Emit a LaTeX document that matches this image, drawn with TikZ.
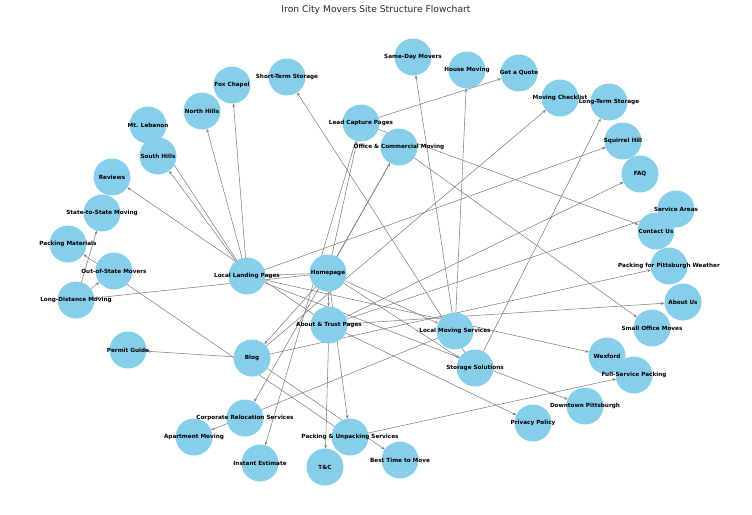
\documentclass[tikz,border=0pt]{standalone}
\usepackage{fontspec}
\setmainfont{DejaVu Sans}
\usetikzlibrary{arrows.meta,backgrounds}
\definecolor{nodeblue}{RGB}{135,206,235}
\definecolor{edgegray}{RGB}{128,128,128}
\definecolor{titlegray}{RGB}{40,40,40}
\begin{document}
\begin{tikzpicture}[x=1pt,y=-1pt,
  pagenode/.style={circle,fill=nodeblue,draw=none,minimum size=37pt,inner sep=0pt,outer sep=0pt},
  lbl/.style={font=\bfseries\fontsize{5.7}{6}\selectfont,inner sep=0pt,text=black},
  link/.style={draw=edgegray,line width=0.55pt,-{Stealth[length=3.6pt,width=2.8pt]}},
  titlestyle/.style={font=\fontsize{9.2}{11}\selectfont,text=titlegray,inner sep=0pt}]
\useasboundingbox (0,0) rectangle (752,514);
\node[titlestyle] (title) at (376,9.5) {Iron City Movers Site Structure Flowchart};
% circles
\node[pagenode] (hp)  at (328,273) {};
\node[pagenode] (llp) at (247,276) {};
\node[pagenode] (atp) at (329,325) {};
\node[pagenode] (blog) at (252,358) {};
\node[pagenode] (lcp) at (361,123) {};
\node[pagenode] (ocm) at (399,147) {};
\node[pagenode] (lms) at (455,331) {};
\node[pagenode] (ss)  at (475,368) {};
\node[pagenode] (ldm) at (76,300) {};
\node[pagenode] (pus) at (350,437) {};
\node[pagenode] (hm)  at (467,70) {};
\node[pagenode] (am)  at (194,437) {};
\node[pagenode] (sdm) at (413,57) {};
\node[pagenode] (sts) at (102,213) {};
\node[pagenode] (osm) at (114,271) {};
\node[pagenode] (crs) at (245,418) {};
\node[pagenode] (sto) at (287,77) {};
\node[pagenode] (lts) at (609,102) {};
\node[pagenode] (som) at (652,328) {};
\node[pagenode] (wx)  at (607,356) {};
\node[pagenode] (fsp) at (634,375) {};
\node[pagenode] (pm)  at (68,244) {};
\node[pagenode] (dp)  at (585,406) {};
\node[pagenode] (sh)  at (623,141) {};
\node[pagenode] (ml)  at (148,125) {};
\node[pagenode] (shl) at (158,156) {};
\node[pagenode] (nh)  at (202,111) {};
\node[pagenode] (fc)  at (232,85) {};
\node[pagenode] (mc)  at (560,98) {};
\node[pagenode] (bt)  at (400,460) {};
\node[pagenode] (pg)  at (128,350) {};
\node[pagenode] (au)  at (683,302) {};
\node[pagenode] (rv)  at (112,177) {};
\node[pagenode] (sa)  at (676,209) {};
\node[pagenode] (cu)  at (656,231) {};
\node[pagenode] (ppw) at (669,266) {};
\node[pagenode] (faq) at (640,174) {};
\node[pagenode] (pp)  at (533,423) {};
\node[pagenode] (tc)  at (325,467) {};
\node[pagenode] (gq)  at (519,73) {};
\node[pagenode] (ie)  at (260,463) {};
% labels
\node[lbl] at (hp) {Homepage};
\node[lbl] at (llp) {Local Landing Pages};
\node[lbl] at (atp) {About \& Trust Pages};
\node[lbl] at (blog) {Blog};
\node[lbl] at (lcp) {Lead Capture Pages};
\node[lbl] at (ocm) {Office \& Commercial Moving};
\node[lbl] at (lms) {Local Moving Services};
\node[lbl] at (ss) {Storage Solutions};
\node[lbl] at (ldm) {Long-Distance Moving};
\node[lbl] at (pus) {Packing \& Unpacking Services};
\node[lbl] at (hm) {House Moving};
\node[lbl] at (am) {Apartment Moving};
\node[lbl] at (sdm) {Same-Day Movers};
\node[lbl] at (sts) {State-to-State Moving};
\node[lbl] at (osm) {Out-of-State Movers};
\node[lbl] at (crs) {Corporate Relocation Services};
\node[lbl] at (sto) {Short-Term Storage};
\node[lbl] at (lts) {Long-Term Storage};
\node[lbl] at (som) {Small Office Moves};
\node[lbl] at (wx) {Wexford};
\node[lbl] at (fsp) {Full-Service Packing};
\node[lbl] at (pm) {Packing Materials};
\node[lbl] at (dp) {Downtown Pittsburgh};
\node[lbl] at (sh) {Squirrel Hill};
\node[lbl] at (ml) {Mt. Lebanon};
\node[lbl] at (shl) {South Hills};
\node[lbl] at (nh) {North Hills};
\node[lbl] at (fc) {Fox Chapel};
\node[lbl] at (mc) {Moving Checklist};
\node[lbl] at (bt) {Best Time to Move};
\node[lbl] at (pg) {Permit Guide};
\node[lbl] at (au) {About Us};
\node[lbl] at (rv) {Reviews};
\node[lbl] at (sa) {Service Areas};
\node[lbl] at (cu) {Contact Us};
\node[lbl] at (ppw) {Packing for Pittsburgh Weather};
\node[lbl] at (faq) {FAQ};
\node[lbl] at (pp) {Privacy Policy};
\node[lbl] at (tc) {T\&C};
\node[lbl] at (gq) {Get a Quote};
\node[lbl] at (ie) {Instant Estimate};
% edges
\begin{pgfonlayer}{background}
\foreach \a/\b in {hp/llp,hp/atp,hp/blog,hp/lcp,hp/lms,hp/ss,hp/ocm,hp/ldm,hp/pus,
  lms/hm,lms/am,lms/sdm,ldm/sts,ldm/osm,ss/sto,ss/lts,ocm/som,ocm/crs,pus/fsp,pus/pm,
  llp/dp,llp/sh,llp/ml,llp/shl,llp/nh,llp/fc,llp/wx,
  blog/mc,blog/bt,blog/ppw,blog/pg,
  atp/au,atp/rv,atp/sa,atp/faq,atp/pp,atp/tc,
  lcp/gq,lcp/cu,lcp/ie}
  \draw[link] (\a) -- (\b);
\end{pgfonlayer}
\end{tikzpicture}
\end{document}
